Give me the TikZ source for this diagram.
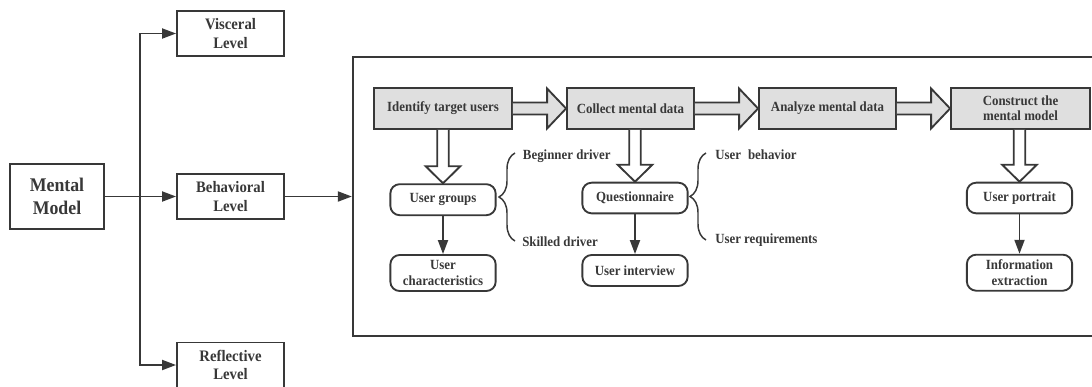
\documentclass[tikz,border=0pt]{standalone}
\usepackage{fontspec}
\setmainfont{Liberation Serif}[FakeStretch=0.92]
\usetikzlibrary{arrows.meta,calc,decorations.pathreplacing}
\definecolor{ink}{HTML}{383838}
\definecolor{boxgray}{HTML}{DFDFDF}
\newcommand\blockH[3]{%
  \path[blk, fill=#3] let \p1=(#1.east), \p2=(#2.west) in
    (\x1,\y1+4.5pt) -- (\x2-14.25pt,\y1+4.5pt) -- (\x2-14.25pt,\y1+15pt) -- (\x2,\y1)
    -- (\x2-14.25pt,\y1-15pt) -- (\x2-14.25pt,\y1-4.5pt) -- (\x1,\y1-4.5pt);
}
\newcommand\blockV[2]{%
  \path[blk, fill=white] let \p1=(#1.south), \p2=(#2.north) in
    (\x2-4.3pt,\y1) -- (\x2-4.3pt,\y2+12.75pt) -- (\x2-13pt,\y2+12.75pt) -- (\x2,\y2)
    -- (\x2+13pt,\y2+12.75pt) -- (\x2+4.3pt,\y2+12.75pt) -- (\x2+4.3pt,\y1);
}
\begin{document}
\begin{tikzpicture}[x=0.75pt,y=-0.75pt,
  arr/.style={draw=ink, line width=1.4pt, -{Triangle[length=10.5pt,width=7.5pt]}},
  lvl/.style={draw=ink, line width=1.4pt, minimum width=80.25pt, minimum height=33.75pt,
    inner sep=0pt, align=center, text=ink, font=\fontsize{12}{14}\selectfont\bfseries},
  gbox/.style={draw=ink, fill=boxgray, line width=1.4pt, minimum height=30.75pt,
    inner sep=0pt, align=center, text=ink, font=\fontsize{10.5}{11.5}\selectfont\bfseries},
  rbox/.style={draw=ink, rounded corners=7pt, line width=1.4pt, minimum width=79pt,
    inner sep=0pt, align=center, text=ink, font=\fontsize{10.5}{11.8}\selectfont\bfseries},
  lbl/.style={anchor=base west, inner sep=0pt, text=ink, font=\fontsize{10.5}{12}\selectfont\bfseries},
  brc/.style={draw=ink, line width=1.1pt, decorate, decoration={brace, amplitude=12pt}},
  blk/.style={draw=ink, line width=1.4pt, line join=miter}
]
\useasboundingbox (0,0) rectangle (1092,386);

% left part
\node[draw=ink, line width=1.4pt, minimum width=70.5pt, minimum height=48.75pt, inner sep=0pt,
  align=center, text=ink, font=\fontsize{14.5}{17.5}\selectfont\bfseries] (mm) at (57,196.5) {Mental\\Model};
\node[lvl] (vis) at (230.5,33.5) {Visceral\\Level};
\node[lvl] (beh) at (230.5,196.5) {Behavioral\\Level};
\node[lvl] (ref) at (230.5,365) {Reflective\\Level};
\coordinate (split) at (140,196.5);

\draw[arr] (mm.east) -- (beh.west);
\draw[arr] (split) |- (vis.west);
\draw[arr] (split) |- (ref.west);

% frame
\node[draw=ink, line width=1.7pt, minimum width=557.25pt, minimum height=209.25pt, inner sep=0pt] (frame) at (724.5,196.5) {};
\draw[arr] (beh.east) -- (frame.west);

% steps
\node[gbox, minimum width=103.5pt] (id) at (443,108.5) {Identify target users};
\node[gbox, minimum width=95.25pt] (col) at (630.5,108.5) {Collect mental data};
\node[gbox, minimum width=102.75pt] (ana) at (827.5,108.5) {Analyze mental data};
\node[gbox, minimum width=104.25pt] (con) at (1020.5,108.5) {Construct the\\mental model};

\blockH{id}{col}{boxgray}
\blockH{col}{ana}{boxgray}
\blockH{ana}{con}{boxgray}

% sub boxes
\node[rbox, minimum height=23.25pt] (ug) at (443,199.7) {User groups};
\node[rbox, minimum height=27pt] (uc) at (443,273) {User\\characteristics};
\node[rbox, minimum height=23pt] (q) at (635,198) {Questionnaire};
\node[rbox, minimum height=23.25pt] (ui) at (635,270.5) {User interview};
\node[rbox, minimum height=23pt] (up) at (1019.5,198) {User portrait};
\node[rbox, minimum height=27pt] (ie) at (1019.5,272.7) {Information\\extraction};

\blockV{id}{ug}
\blockV{col}{q}
\blockV{con}{up}

\draw[arr] (ug) -- (uc);
\draw[arr] (q) -- (ui);
\draw[arr] (up) -- (ie);

% braces and labels
\draw[brc] (515,241) -- (515,153);
\draw[brc] (706,240) -- (706,153);
\node[lbl] (beg) at (522.7,159) {Beginner driver};
\node[lbl] (sk) at (522,246) {Skilled driver};
\node[lbl] (ub) at (715,159.3) {User\enspace behavior};
\node[lbl] (ur) at (715,243.5) {User requirements};
\end{tikzpicture}
\end{document}
